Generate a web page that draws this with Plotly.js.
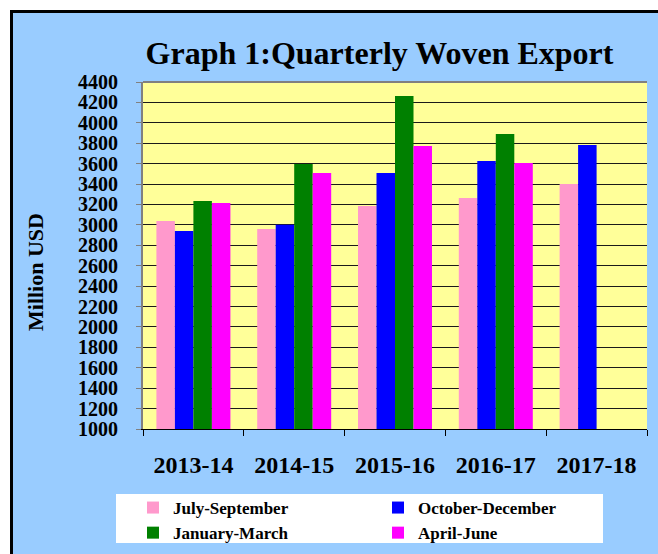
<!DOCTYPE html>
<html>
<head>
<meta charset="utf-8">
<script src="https://cdn.plot.ly/plotly-3.0.1.min.js"></script>
<style>html,body{margin:0;padding:0;background:#fff;}#chart{width:658px;height:554px;}</style>
</head>
<body>
<div id="chart"></div>
<script>
const years = ["2013-14", "2014-15", "2015-16", "2016-17", "2017-18"];
const julSep = [3038, 2960, 3185, 3263, 3400];
const octDec = [2940, 3002, 3508, 3626, 3783];
const janMar = [3234, 3597, 4263, 3890, null];
const aprJun = [3214, 3508, 3773, 3606, null];
const seriesNames = ["July-September", "October-December", "January-March", "April-June"];
const yTicks = [1000,1200,1400,1600,1800,2000,2200,2400,2600,2800,3000,3200,3400,3600,3800,4000,4200,4400];

const W = 658, H = 554;
const M = {l: 143, r: 11, t: 82, b: 125, autoexpand: false};
const PW = W - M.l - M.r, PH = H - M.t - M.b;
const px = x => (x - M.l) / PW;
const py = y => (H - M.b - y) / PH;

const serif = "Liberation Serif, Times New Roman, serif";
const colors = ["#FF99CC", "#0000FF", "#008000", "#FF00FF"];
const vals = [julSep, octDec, janMar, aprJun];

const data = vals.map((v, i) => ({
  type: "bar", x: years, y: v, name: seriesNames[i],
  marker: {color: colors[i], line: {width: 0}},
  hoverinfo: "x+y+name"
}));

const layout = {
  width: W, height: H,
  margin: M,
  paper_bgcolor: "#99CCFF",
  plot_bgcolor: "#FFFF99",
  font: {family: serif, color: "#000", size: 20, weight: "bold"},
  title: {text: "<b>Graph 1:Quarterly Woven Export</b>", font: {family: serif, size: 32, color: "#000"},
          x: 379.5 / W, xanchor: "center", y: 1 - 53 / H, yanchor: "middle"},
  barmode: "group", bargap: 0.266, bargroupgap: 0,
  xaxis: {
    type: "category", tickson: "boundaries", ticks: "outside", ticklen: 6, tickcolor: "#000", tickwidth: 1,
    showline: true, linecolor: "#000", linewidth: 1, showgrid: false,
    tickfont: {family: serif, size: 24, color: "#000", weight: "bold"}, ticklabelstandoff: 14,
    automargin: false, fixedrange: true
  },
  yaxis: {
    range: [1000, 4400], tickvals: yTicks, ticktext: yTicks.map(String),
    ticks: "outside", ticklen: 5, tickcolor: "#808080", tickwidth: 1,
    showline: true, linecolor: "#808080", linewidth: 2,
    showgrid: true, gridcolor: "#1a1a1a", gridwidth: 1, zeroline: false,
    tickfont: {family: serif, size: 20, color: "#000", weight: "bold"}, ticklabelstandoff: 14,
    automargin: false, fixedrange: true
  },
  annotations: [
    {text: "<b>Million USD</b>", xref: "paper", yref: "paper", x: px(35), y: py(272),
     xanchor: "center", yanchor: "middle", textangle: -90, showarrow: false,
     font: {family: serif, size: 22, color: "#000"}}
  ],
  showlegend: true,
  legend: {
    orientation: "h", xref: "container", yref: "container",
    x: 133 / W, xanchor: "left", y: 1 - 490 / H, yanchor: "top",
    bgcolor: "rgba(0,0,0,0)", borderwidth: 0, entrywidth: 200, entrywidthmode: "pixels",
    font: {family: serif, size: 17, color: "#000", weight: "bold"}, traceorder: "normal",
    itemclick: false, itemdoubleclick: false
  },
  shapes: [
    {type: "rect", xref: "paper", yref: "paper", x0: px(0), x1: px(10), y0: py(0), y1: py(H), fillcolor: "#fff", line: {width: 0}, layer: "below"},
    {type: "rect", xref: "paper", yref: "paper", x0: px(0), x1: px(W), y0: py(0), y1: py(10), fillcolor: "#fff", line: {width: 0}, layer: "below"},
    {type: "line", xref: "paper", yref: "paper", x0: px(11.5), x1: px(11.5), y0: py(10), y1: py(H), line: {color: "#000", width: 3}},
    {type: "line", xref: "paper", yref: "paper", x0: px(10), x1: px(W), y0: py(11.5), y1: py(11.5), line: {color: "#000", width: 3}},
    {type: "rect", xref: "paper", yref: "paper", x0: px(116), x1: px(603), y0: py(494), y1: py(543), fillcolor: "#fff", line: {width: 0}, layer: "below"},
    {type: "line", xref: "paper", yref: "paper", x0: 0, x1: 1, y0: 1, y1: 1, line: {color: "#808080", width: 2}}
  ]
};

Plotly.newPlot("chart", data, layout, {displayModeBar: false});
</script>
</body>
</html>
